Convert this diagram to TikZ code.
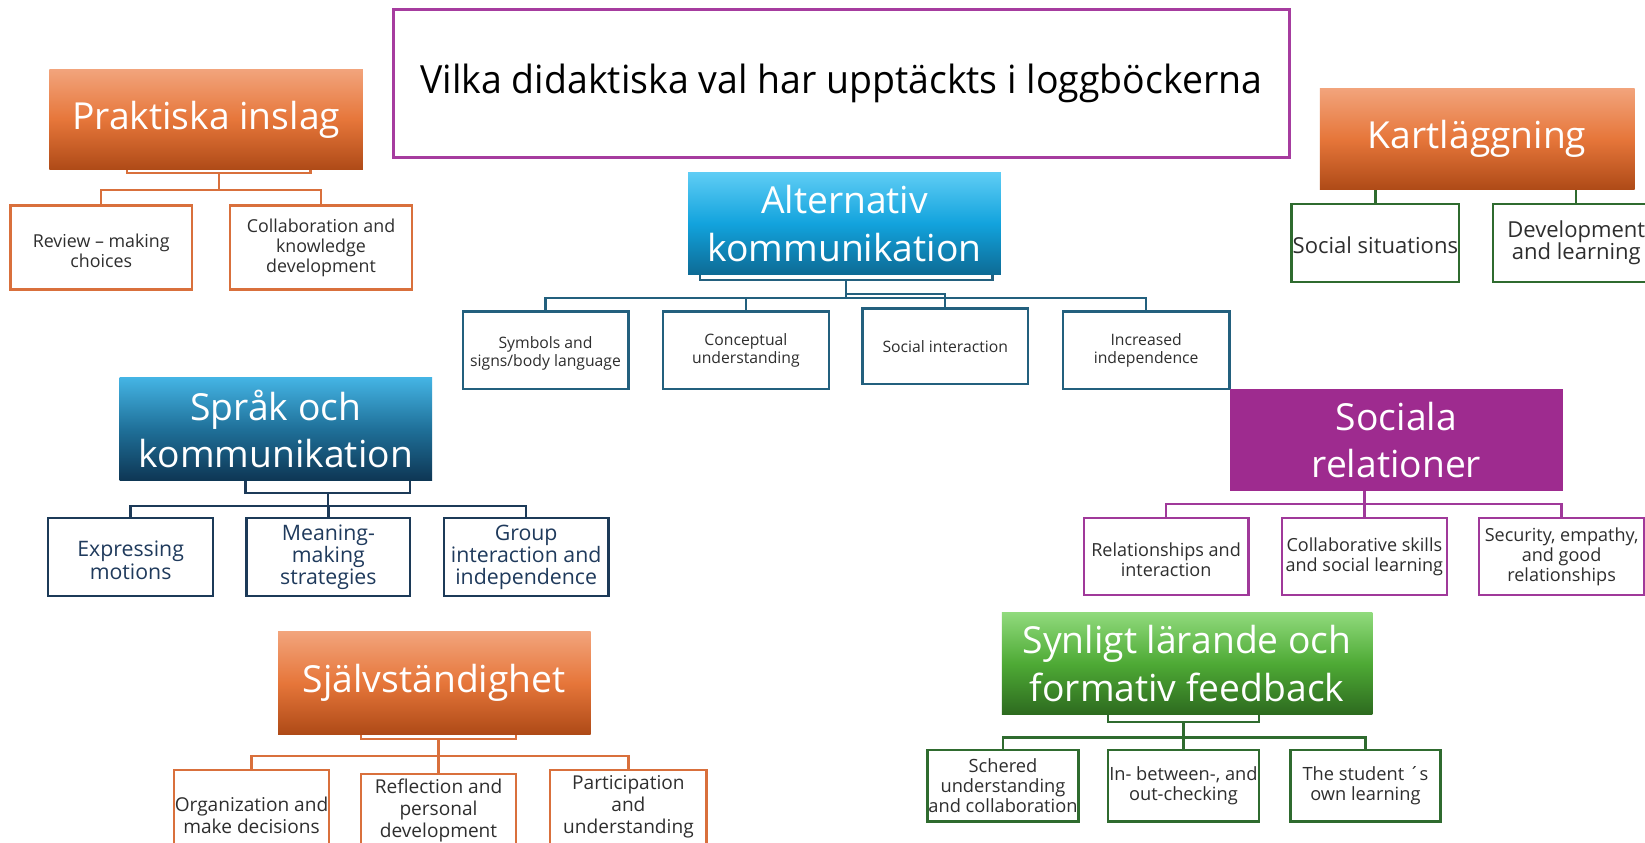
\documentclass[tikz,border=0pt]{standalone}
\usepackage{fontspec}
\setmainfont{Open Sans}
\usepackage{graphicx}
\definecolor{orT}{HTML}{F2A47C}
\definecolor{orM}{HTML}{E6763A}
\definecolor{orB}{HTML}{AE4A17}
\definecolor{orC}{HTML}{D9703C}
\definecolor{abT}{HTML}{5FCDF5}
\definecolor{abM}{HTML}{12A3DD}
\definecolor{abB}{HTML}{0D6A94}
\definecolor{abC}{HTML}{23607E}
\definecolor{sbT}{HTML}{44B4E4}
\definecolor{sbM}{HTML}{1F7099}
\definecolor{sbB}{HTML}{0E3654}
\definecolor{sbC}{HTML}{1C3A58}
\definecolor{grT}{HTML}{90DA7C}
\definecolor{grM}{HTML}{4EAA35}
\definecolor{grB}{HTML}{2D6A1F}
\definecolor{grC}{HTML}{2F6B2F}
\definecolor{soc}{HTML}{9E2B8F}
\definecolor{socC}{HTML}{A0399A}
\definecolor{ttlC}{HTML}{A63C9F}
\definecolor{txt}{HTML}{2E2E2E}
\definecolor{navytxt}{HTML}{1F3A5C}
\begin{document}
\begin{tikzpicture}[x=1pt,y=-1pt,
  wh/.style 2 args={minimum width=#1pt, minimum height=#2pt},
  hdr/.style={rectangle, inner sep=0pt, text=white, align=center, font=\fontsize{35.5}{45}\selectfont},
  orhdr/.style={hdr, top color=orT, bottom color=orB, middle color=orM},
  abhdr/.style={hdr, top color=abT, bottom color=abB, middle color=abM},
  sbhdr/.style={hdr, top color=sbT, bottom color=sbB, middle color=sbM},
  grhdr/.style={hdr, top color=grT, bottom color=grB, middle color=grM},
  sochdr/.style={hdr, fill=soc},
  child/.style={rectangle, draw, fill=white, line width=2.2pt, inner sep=0pt, align=center, text=txt},
  back/.style={rectangle, draw, fill=white, line width=2.2pt, inner sep=0pt},
  ln/.style={line width=2.2pt},
  fPr/.style={font=\fontsize{17}{19}\selectfont},
  fAb/.style={font=\fontsize{15}{17}\selectfont},
  fKa/.style={font=\fontsize{21}{21}\selectfont},
  fSp/.style={font=\fontsize{20.3}{21}\selectfont},
  fSo/.style={font=\fontsize{17.2}{19}\selectfont},
  fSj/.style={font=\fontsize{18.2}{21}\selectfont},
  fSy/.style={font=\fontsize{17.4}{19}\selectfont}
]
\useasboundingbox (0,0) rectangle (1568,803);
\fill[white] (0,0) rectangle (1568,803);
\clip (0,0) rectangle (1568,803);

% Title
\node[rectangle, draw=ttlC, line width=2.5pt, fill=white, wh={854}{141}, inner sep=0pt] (t) at (802,79.5)
  {\raisebox{-3.5pt}{\resizebox*{802pt}{37pt}{Vilka didaktiska val har upptäckts i loggböckerna}}};

% Praktiska inslag
\node[back, draw=orC, wh={175}{45}] (pb) at (208.5,142.5) {};
\node[orhdr, wh={299}{96}] (p) at (196.5,114) {Praktiska inslag};
\node[child, draw=orC, fPr, wh={173}{80}] (p1) at (96.5,236) {\mbox{}\\Review – making\\choices};
\node[child, draw=orC, fPr, wh={174}{80}] (p2) at (306,236) {Collaboration and\\knowledge\\development};
\draw[ln, draw=orC] (pb.south) -- ++(0,15) -| (p1.north);
\draw[ln, draw=orC] (pb.south) -- ++(0,15) -| (p2.north);

% Alternativ kommunikation
\node[back, draw=abC, wh={279}{47}] (ab) at (806.5,243.5) {};
\node[abhdr, wh={298}{98}] (a) at (805,213) {Alternativ\\kommunikation};
\node[child, draw=abC, fAb, wh={158}{74}] (a1) at (520,334) {\mbox{}\\Symbols and\\signs/body language};
\node[child, draw=abC, fAb, wh={158}{74}] (a2) at (711,334) {Conceptual\\understanding};
\node[child, draw=abC, fAb, wh={158}{72}] (a3) at (901,330) {Social interaction};
\node[child, draw=abC, fAb, wh={159}{74}] (a4) at (1092.5,334) {Increased\\independence};
\draw[ln, draw=abC] (ab.south) -- ++(0,16) -| (a1.north);
\draw[ln, draw=abC] (ab.south) -- ++(0,16) -| (a2.north);
\draw[ln, draw=abC] (ab.south) -- ++(0,16) -| (a4.north);
\draw[ln, draw=abC] (ab.south) -- ++(0,12) -| (a3.north);

% Kartläggning
\node[orhdr, wh={300}{97}] (k) at (1408,132.5) {Kartläggning};
\node[child, draw=grC, fKa, wh={160}{74}] (k1) at (1311,231.5) {\mbox{}\\Social situations};
\node[child, draw=grC, fKa, wh={159}{74}] (k2) at (1502.5,231.5) {Development\\and learning};
\draw[ln, draw=grC] (k.south -| k1.north) -- (k1.north);
\draw[ln, draw=grC] (k.south -| k2.north) -- (k2.north);

% Språk och kommunikation
\node[back, draw=sbC, wh={157}{50}] (sb) at (312.5,445) {};
\node[sbhdr, wh={298}{98}] (s) at (263,409) {Språk och\\kommunikation};
\node[child, draw=sbC, fSp, text=navytxt, wh={157}{74}] (s1) at (124.5,531) {\mbox{}\\Expressing\\motions};
\node[child, draw=sbC, fSp, text=navytxt, wh={156}{74}] (s2) at (313,531) {Meaning-\\making\\strategies};
\node[child, draw=sbC, fSp, text=navytxt, wh={157}{74}] (s3) at (501.5,531) {Group\\interaction and\\independence};
\draw[ln, draw=sbC] (sb.south) -- ++(0,11) -| (s1.north);
\draw[ln, draw=sbC] (sb.south) -- ++(0,11) -| (s2.north);
\draw[ln, draw=sbC] (sb.south) -- ++(0,11) -| (s3.north);

% Sociala relationer
\node[sochdr, wh={318}{97}] (r) at (1331,419.5) {Sociala\\relationer};
\node[child, draw=socC, fSo, wh={157}{73}] (r1) at (1111.5,530.5) {\mbox{}\\Relationships and\\interaction};
\node[child, draw=socC, fSo, wh={157}{73}] (r2) at (1300.5,530.5) {Collaborative skills\\and social learning};
\node[child, draw=socC, fSo, wh={157}{73}] (r3) at (1488.5,530.5) {Security, empathy,\\and good\\relationships};
\draw[ln, draw=socC] (r.south -| r2.north) -- ++(0,12) -| (r1.north);
\draw[ln, draw=socC] (r.south -| r2.north) -- ++(0,12) -| (r2.north);
\draw[ln, draw=socC] (r.south -| r2.north) -- ++(0,12) -| (r3.north);

% Självständighet
\node[back, draw=orC, wh={148}{45}] (jb) at (418,682) {};
\node[orhdr, wh={298}{98}] (j) at (414,651) {Självständighet};
\node[child, draw=orC, fSj, wh={147.5}{87}] (j1) at (239.75,777.5) {Organization and\\make decisions};
\node[child, draw=orC, fSj, wh={148}{86}] (j2) at (418,781) {Reflection and\\personal\\development\\\mbox{}};
\node[child, draw=orC, fSj, wh={149}{87}] (j3) at (599,777.5) {Participation\\and\\understanding\\\mbox{}};
\draw[ln, draw=orC] (jb.south) -- ++(0,15) -| (j1.north);
\draw[ln, draw=orC] (jb.south) -- ++(0,15) -| (j2.north);
\draw[ln, draw=orC] (jb.south) -- ++(0,15) -| (j3.north);

% Synligt lärande och formativ feedback
\node[back, draw=grC, wh={144}{46}] (gb) at (1128,665) {};
\node[grhdr, wh={353}{97}] (g) at (1131.5,632.5) {Synligt lärande och\\formativ feedback};
\node[child, draw=grC, fSy, wh={144}{68}] (g1) at (956,749) {Schered\\understanding\\and collaboration};
\node[child, draw=grC, fSy, wh={144}{68}] (g2) at (1128,749) {In- between-, and\\out-checking};
\node[child, draw=grC, fSy, wh={143}{68}] (g3) at (1301.5,749) {The student ´s\\own learning};
\draw[ln, draw=grC] (gb.south) -- ++(0,14) -| (g1.north);
\draw[ln, draw=grC] (gb.south) -- ++(0,14) -| (g2.north);
\draw[ln, draw=grC] (gb.south) -- ++(0,14) -| (g3.north);
\end{tikzpicture}
\end{document}
